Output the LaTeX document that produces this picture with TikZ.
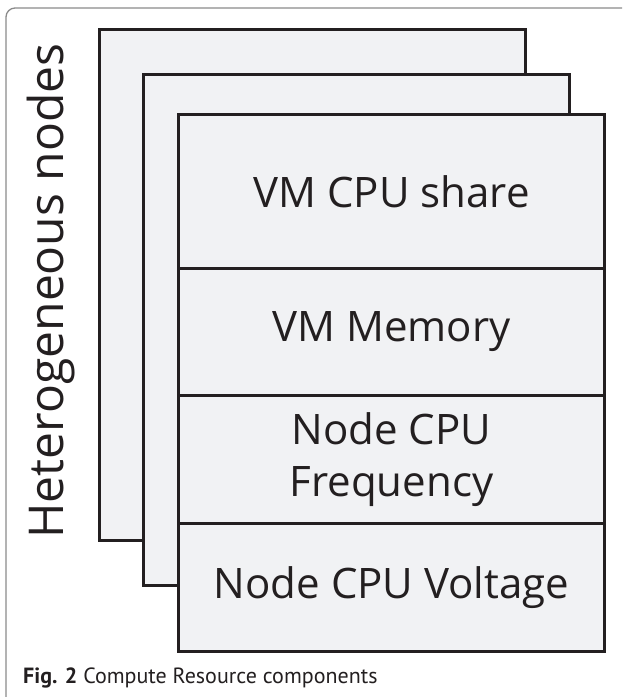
\documentclass[tikz,border=0pt]{standalone}
\usepackage{fontspec}
\setmainfont{Open Sans}
\newfontfamily\capfont{PT Sans}
\definecolor{boxfill}{HTML}{F1F2F4}
\definecolor{ink}{HTML}{231F20}
\definecolor{framegray}{HTML}{8A8A8A}
\tikzset{
  layerbox/.style={draw=ink, line width=3pt, fill=boxfill, anchor=north west,
    inner sep=0pt, minimum width=426pt},
  rowbox/.style={draw=ink, line width=3pt, fill=boxfill, anchor=north west,
    inner sep=0pt, minimum width=426pt, text=ink, align=center,
    font=\fontsize{42}{52}\selectfont},
}
\begin{document}
\begin{tikzpicture}[x=1pt,y=-1pt]
\useasboundingbox (0,0) rectangle (622,697);
\begin{scope}
\clip (0,0) rectangle (622,697);
\draw[framegray, line width=1.3pt, rounded corners=9pt] (6,8) rectangle (680,760);
\end{scope}
\node[layerbox, minimum height=511pt] (back) at (98,28) {};
\node[layerbox, minimum height=511pt] (mid) at (142,73) {};
\node[rowbox, minimum height=154pt] (share) at (177,113) {VM CPU share};
\node[rowbox, minimum height=127pt] (mem) at (177,267) {VM Memory};
\node[rowbox, minimum height=128pt] (freq) at (177,394) {Node CPU\\Frequency};
\node[rowbox, minimum height=128pt] (volt) at (177,522) {Node CPU Voltage};
\node[rotate=90, text=ink, font=\fontsize{48}{56}\selectfont, inner sep=0pt] (het) at (51,291) {Heterogeneous nodes};
\node[anchor=base west, inner sep=0pt, text=ink, font=\capfont\fontsize{22}{26}\selectfont] (cap) at (23,683) {\textbf{Fig. 2} Compute Resource components};
\end{tikzpicture}
\end{document}
